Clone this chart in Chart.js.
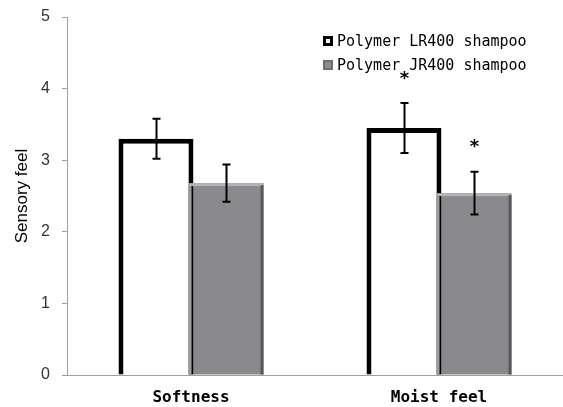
<!DOCTYPE html>
<html>
<head>
<meta charset="utf-8">
<script src="https://cdn.jsdelivr.net/npm/chart.js@4/dist/chart.umd.min.js"></script>
<style>
  html, body { margin: 0; padding: 0; background: #fff; }
  #wrap { width: 563px; height: 407px; }
</style>
</head>
<body>
<div id="wrap"><canvas id="chart"></canvas></div>
<script>
// data
const categories = ['Softness', 'Moist feel'];
const seriesNames = ['Polymer LR400 shampoo', 'Polymer JR400 shampoo'];
const lr400 = [3.30, 3.45];
const jr400 = [2.68, 2.54];
const lr400Err = [0.28, 0.35];
const jr400Err = [0.26, 0.30];
const lr400Sig = ['', '*'];
const jr400Sig = ['', '*'];

const values = [lr400, jr400];
const errors = [lr400Err, jr400Err];
const marks = [lr400Sig, jr400Sig];

const GRAY = '#8a898c';

const overlay = {
    id: 'overlay',
    afterDatasetsDraw(chart) {
        const ctx = chart.ctx;
        const ys = chart.scales.y;
        ctx.save();

        // bevel on the gray bars
        chart.getDatasetMeta(1).data.forEach(bar => {
            const p = bar.getProps(['x', 'y', 'base', 'width'], true);
            const l = p.x - p.width / 2, r = p.x + p.width / 2;
            ctx.fillStyle = '#b4b3b5';
            ctx.fillRect(l, p.y, p.width, 3);
            ctx.fillStyle = '#9d9c9f';
            ctx.fillRect(l, p.y + 3, 3, p.base - p.y - 3);
            ctx.fillStyle = '#5a595b';
            ctx.fillRect(r - 3, p.y + 2, 3, p.base - p.y - 2);
        });

        // error bars and significance marks
        ctx.strokeStyle = '#000';
        ctx.lineWidth = 2;
        ctx.fillStyle = '#000';
        ctx.font = 'bold 18px "DejaVu Sans"';
        ctx.textAlign = 'center';
        ctx.textBaseline = 'middle';
        [0, 1].forEach(d => {
            chart.getDatasetMeta(d).data.forEach((bar, i) => {
                const v = values[d][i], e = errors[d][i];
                const yt = ys.getPixelForValue(v + e);
                const yb = ys.getPixelForValue(v - e);
                const x = Math.round(bar.x) + 0.5;
                ctx.beginPath();
                ctx.moveTo(x, yt); ctx.lineTo(x, yb);
                ctx.moveTo(x - 4, yt); ctx.lineTo(x + 4, yt);
                ctx.moveTo(x - 4, yb); ctx.lineTo(x + 4, yb);
                ctx.stroke();
                if (marks[d][i]) {
                    ctx.fillText(marks[d][i], x, yt - 24);
                }
            });
        });

        // legend, inside the plot at top right
        const lx = 323, rows = [41, 65];
        ctx.font = '15px "DejaVu Sans Mono"';
        ctx.textAlign = 'left';
        ctx.textBaseline = 'middle';
        // LR400 marker
        ctx.fillStyle = '#000';
        ctx.fillRect(lx, rows[0] - 5, 10, 10);
        ctx.fillStyle = '#fff';
        ctx.fillRect(lx + 3, rows[0] - 2, 4, 4);
        // JR400 marker
        ctx.fillStyle = '#6f6e70';
        ctx.fillRect(lx, rows[1] - 5, 10, 10);
        ctx.fillStyle = GRAY;
        ctx.fillRect(lx + 2, rows[1] - 3, 6, 6);
        ctx.fillStyle = '#000';
        seriesNames.forEach((name, k) => ctx.fillText(name, lx + 14, rows[k] + 1));

        ctx.restore();
    }
};

new Chart(document.getElementById('chart'), {
    type: 'bar',
    data: {
        labels: categories,
        datasets: [
            {
                label: seriesNames[0],
                data: lr400,
                backgroundColor: '#fff',
                borderColor: '#000',
                borderWidth: 5,
                borderSkipped: 'bottom'
            },
            {
                label: seriesNames[1],
                data: jr400,
                backgroundColor: GRAY,
                borderWidth: 0
            }
        ]
    },
    options: {
        responsive: true,
        maintainAspectRatio: false,
        animation: false,
        layout: { padding: { top: 17, right: 0, left: 0, bottom: 0 } },
        datasets: {
            bar: { categoryPercentage: 0.565, barPercentage: 1.07 }
        },
        plugins: {
            legend: { display: false },
            tooltip: { enabled: false }
        },
        scales: {
            x: {
                grid: { display: false },
                border: { color: '#a0a0a0', width: 1 },
                ticks: {
                    color: '#000',
                    padding: 5,
                    font: { family: 'DejaVu Sans Mono', size: 16, weight: 'bold' }
                },
                afterFit: s => { s.height = 32; }
            },
            y: {
                min: 0,
                max: 5,
                ticks: {
                    stepSize: 1,
                    color: '#333',
                    padding: 12,
                    font: { family: 'Liberation Sans', size: 16 }
                },
                grid: {
                    drawOnChartArea: false,
                    drawTicks: true,
                    tickLength: 5,
                    color: '#a0a0a0'
                },
                border: { color: '#a0a0a0', width: 1 },
                title: {
                    display: true,
                    text: 'Sensory feel',
                    color: '#000',
                    padding: { top: 12, bottom: 0 },
                    font: { family: 'Liberation Sans', size: 17 }
                },
                afterFit: s => {
                    s.width = 67;
                    s.paddingTop = 0;
                    s.paddingBottom = 0;
                }
            }
        }
    },
    plugins: [overlay]
});
</script>
</body>
</html>
